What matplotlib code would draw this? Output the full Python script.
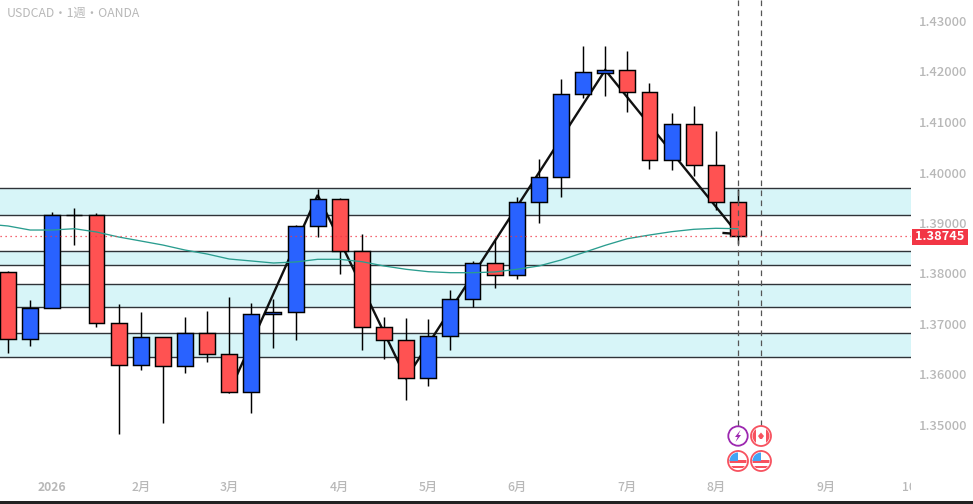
#!/usr/bin/env python3
'''Weekly USDCAD candlestick chart with zones, zigzag and moving average.'''

import matplotlib
matplotlib.use('Agg')
import matplotlib.pyplot as plt
from matplotlib.patches import Circle, Polygon, Rectangle
from matplotlib.transforms import blended_transform_factory

plt.rcParams['font.family'] = ['Noto Sans CJK JP', 'DejaVu Sans']

title = 'USDCAD・1週・OANDA'
last_price = 1.38745

opens = [1.38024, 1.36697, 1.37311, 1.39152, 1.39152, 1.37014, 1.36182, 1.36737, 1.36162,
         1.36816, 1.36400, 1.35648, 1.37192, 1.37232, 1.38935, 1.39469, 1.38440, 1.36935,
         1.36677, 1.35925, 1.36757, 1.37489, 1.38202, 1.37964, 1.39410, 1.39905, 1.41548,
         1.41976, 1.42023, 1.41588, 1.40241, 1.40954, 1.40142, 1.39410]
closes = [1.36697, 1.37311, 1.39152, 1.39152, 1.37014, 1.36182, 1.36737, 1.36162, 1.36816,
          1.36400, 1.35648, 1.37192, 1.37232, 1.38935, 1.39469, 1.38440, 1.36935, 1.36677,
          1.35925, 1.36757, 1.37489, 1.38202, 1.37964, 1.39410, 1.39905, 1.41548, 1.41984,
          1.42029, 1.41588, 1.40241, 1.40954, 1.40142, 1.39410, 1.38745]
highs = [1.38055, 1.37475, 1.39218, 1.39297, 1.39198, 1.37396, 1.37238, 1.36737, 1.37139,
         1.37257, 1.37535, 1.37416, 1.37495, 1.38960, 1.39673, 1.39495, 1.38782, 1.37139,
         1.37119, 1.37099, 1.37673, 1.38248, 1.38663, 1.39515, 1.40267, 1.41845, 1.42505,
         1.42505, 1.42406, 1.41772, 1.41178, 1.41317, 1.40822, 1.39673]
lows = [1.36432, 1.36570, 1.37311, 1.38570, 1.36947, 1.34816, 1.36095, 1.35046, 1.36036,
        1.36254, 1.35648, 1.35244, 1.36531, 1.36689, 1.38717, 1.37996, 1.36491, 1.36313,
        1.35501, 1.35779, 1.36491, 1.37331, 1.37719, 1.37897, 1.39006, 1.39521, 1.41481,
        1.41521, 1.41204, 1.40075, 1.40055, 1.39937, 1.39257, 1.38578]
is_up = [False, True, True, True, False, False, True, False, True, False, False, True, True,
         True, True, False, False, False, False, True, True, True, False, True, True, True,
         True, True, False, False, True, False, False, False]

ma_index = list(range(-1, 34))
ma_values = [1.38980, 1.38941, 1.38861, 1.38861, 1.38887, 1.38822, 1.38723, 1.38644, 1.38564,
             1.38465, 1.38386, 1.38287, 1.38248, 1.38208, 1.38228, 1.38281, 1.38281, 1.38234,
             1.38149, 1.38083, 1.38036, 1.38016, 1.38016, 1.38030, 1.38083, 1.38149, 1.38267,
             1.38412, 1.38558, 1.38689, 1.38762, 1.38828, 1.38875, 1.38895, 1.38887]

zigzag_index = [10, 14, 18, 27, 33, 32.35]
zigzag_values = [1.35648, 1.39554, 1.35925, 1.42029, 1.38782, 1.38802]

zone_tops = [1.39687, 1.38440, 1.37786, 1.36816]
zone_bottoms = [1.39152, 1.38162, 1.37331, 1.36341]

price_ticks = [1.43, 1.42, 1.41, 1.40, 1.39, 1.38, 1.37, 1.36, 1.35]
month_index = [2, 6, 10, 15, 19, 23, 28, 32, 37]
month_labels = ['2026', '2月', '3月', '4月', '5月', '6月', '7月', '8月', '9月']
clipped_month_index = 41
clipped_month_label = '10月'
event_index = [33, 34.05]

W, H = 973, 504
PX_PER_BAR = 22.12
PX_PER_PRICE = 5050.0
BLUE = '#2962ff'
RED = '#ff5252'
GRAY = '#b8b8b8'


def draw_flag_us(ax, cx, cy):
    '''US event icon: red ring, stripes and a blue corner.'''
    clip = Circle((cx, cy), 8.5, transform=ax.transData)
    ax.add_patch(Circle((cx, cy), 10, fc='white', ec='#f7525f', lw=1.3, zorder=6))
    for dy in (-1, 4.5):
        stripe = Rectangle((cx - 9, cy + dy), 18, 2.6, fc='#f7525f', ec='none', zorder=7)
        ax.add_patch(stripe)
        stripe.set_clip_path(clip)
    corner = Rectangle((cx - 9, cy - 9), 9, 8.5, fc='#42a5f5', ec='none', zorder=8)
    ax.add_patch(corner)
    corner.set_clip_path(clip)


def draw_flag_ca(ax, cx, cy):
    '''Canada event icon: red ring, side bars and a leaf dot.'''
    clip = Circle((cx, cy), 8.5, transform=ax.transData)
    ax.add_patch(Circle((cx, cy), 10, fc='white', ec='#f7525f', lw=1.3, zorder=6))
    for x0 in (cx - 9, cx + 5):
        bar = Rectangle((x0, cy - 9), 4, 18, fc='#f7525f', ec='none', zorder=7)
        ax.add_patch(bar)
        bar.set_clip_path(clip)
    ax.add_patch(Polygon([(cx, cy - 3.5), (cx + 3, cy), (cx + 1, cy + 3), (cx - 1, cy + 3), (cx - 3, cy)],
                         fc='#f7525f', ec='none', zorder=8))


def draw_bolt(ax, cx, cy):
    '''Purple event icon with a lightning bolt.'''
    ax.add_patch(Circle((cx, cy), 9.7, fc='white', ec='#9c27b0', lw=1.3, zorder=6))
    ax.add_patch(Polygon([(cx + 2.5, cy - 6), (cx - 3, cy + 1), (cx - 0.3, cy + 1), (cx - 2.5, cy + 6),
                          (cx + 3, cy - 1), (cx + 0.3, cy - 1)],
                         fc='#9c27b0', ec='none', zorder=7))


fig = plt.figure(figsize=(W / 100, H / 100), dpi=100, facecolor='white')
ax = fig.add_axes([0, 3 / H, 911 / W, 501 / H])

for spine in ax.spines.values():
    spine.set_visible(False)

# Zones

for top, bottom in zip(zone_tops, zone_bottoms):
    ax.axhspan(bottom, top, fc='#d7f5f8', ec='none', zorder=1)
    ax.axhline(top, color='#2f3338', lw=1.0, zorder=2)
    ax.axhline(bottom, color='#2f3338', lw=1.0, zorder=2)

# Zigzag, behind the candles

ax.plot(zigzag_index, zigzag_values, color='#111111', lw=1.7, zorder=3, solid_joinstyle='miter')

# Candles

bar_x = list(range(len(opens)))
ax.vlines(bar_x, lows, highs, color='black', lw=1.05, zorder=4)
body_bottoms = [min(o, c) for o, c in zip(opens, closes)]
body_heights = [abs(o - c) for o, c in zip(opens, closes)]
body_colors = [BLUE if up else RED for up in is_up]
ax.bar(bar_x, body_heights, bottom=body_bottoms, width=0.72, color=body_colors,
       edgecolor='black', linewidth=1.05, zorder=5)

# Moving average and last price line

ax.plot(ma_index, ma_values, color='#2a9d8f', lw=0.95, zorder=6)
ax.axhline(last_price, color='#f23645', lw=0.9, ls=(0, (1, 3)), zorder=6)

# Event lines

trans = blended_transform_factory(ax.transData, ax.transAxes)
for x in event_index:
    ax.plot([x, x], [1.0, (501 - 455) / 501], color='#555555', lw=0.9, ls=(0, (4.5, 3.5)),
            transform=trans, zorder=5.5)

# Axis labels

ax.yaxis.tick_right()
ax.set_yticks(price_ticks)
ax.set_yticklabels(['%.5f' % p for p in price_ticks], fontweight='medium')
ax.tick_params(axis='y', length=0, pad=6, labelsize=9.4, labelcolor=GRAY)
ax.set_xticks(month_index)
ax.set_xticklabels(month_labels, fontweight='medium')
ax.tick_params(axis='x', length=0, pad=-14.5, labelsize=8.8, labelcolor=GRAY)
ax.get_xticklabels()[0].set_fontweight('bold')
ax.grid(False)

# Same pixel calibration as the picture: bar 0 at x=8, 1.39 at y=223.
# Set after the ticks, since set_xticks widens the view to the last tick.

ax.set_xlim(-8 / PX_PER_BAR, (911 - 8) / PX_PER_BAR)
ax.set_ylim(1.39 - 278 / PX_PER_PRICE, 1.39 + 223 / PX_PER_PRICE)

# The last month sits past the edge of the pane, so it is cut off there

ax.text(clipped_month_index, 14 / 501, clipped_month_label, transform=trans, color=GRAY,
        fontsize=8.8, fontweight='medium', ha='center', va='center', clip_on=True)

# Overlay in pixel coordinates for the title, price tag, icons and frame

overlay = fig.add_axes([0, 0, 1, 1], facecolor='none')
overlay.set_xlim(0, W)
overlay.set_ylim(H, 0)
overlay.axis('off')

overlay.text(7, 13, title, color=GRAY, fontsize=8.8, va='center', ha='left')
overlay.add_patch(Rectangle((912, 228.5), 56, 16.5, fc='#f23645', ec='none'))
overlay.text(940, 236.5, '%.5f' % last_price, color='white', fontsize=9.2, fontweight='bold',
             va='center', ha='center')

draw_bolt(overlay, 738, 436)
draw_flag_ca(overlay, 761, 436)
draw_flag_us(overlay, 738, 461)
draw_flag_us(overlay, 761, 461)

overlay.add_patch(Rectangle((0, 501), W, 3, fc='#222222', ec='none'))

fig.savefig('out.png', dpi=100, facecolor='white')
